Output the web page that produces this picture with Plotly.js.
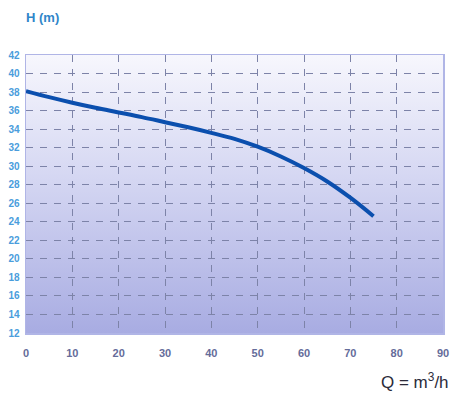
<!DOCTYPE html>
<html>
<head>
<meta charset="utf-8">
<script src="https://cdn.plot.ly/plotly-3.0.1.min.js"></script>
<style>html,body{margin:0;padding:0;background:#fff;}#chart{width:460px;height:396px;}</style>
</head>
<body>
<div id="chart"></div>
<script>
// Data
const flowQ = [0, 5, 10, 15, 20, 25, 30, 35, 40, 45, 50, 55, 60, 65, 70, 75];
const headH = [38.1, 37.45, 36.85, 36.3, 35.8, 35.3, 34.75, 34.2, 33.6, 32.95, 32.1, 31.05, 29.8, 28.35, 26.6, 24.6];
const xTicks = [0, 10, 20, 30, 40, 50, 60, 70, 80, 90];
const yTicks = [12, 14, 16, 18, 20, 22, 24, 26, 28, 30, 32, 34, 36, 38, 40, 42];

const gradSvg = '<svg xmlns="http://www.w3.org/2000/svg" width="10" height="100" preserveAspectRatio="none">' +
  '<defs><linearGradient id="g" x1="0" y1="0" x2="0" y2="1">' +
  '<stop offset="0" stop-color="#f7f7fd"/><stop offset="0.45" stop-color="#d4d6f2"/><stop offset="1" stop-color="#a8ace2"/>' +
  '</linearGradient></defs><rect width="10" height="100" fill="url(#g)"/></svg>';
const gradUri = 'data:image/svg+xml;base64,' + btoa(gradSvg);

const trace = {
  x: flowQ, y: headH, type: 'scatter', mode: 'lines',
  line: {color: '#0b4fae', width: 4, shape: 'spline', smoothing: 1},
  hoverinfo: 'skip'
};

const layout = {
  width: 460, height: 396,
  margin: {l: 26, r: 17, t: 55, b: 63},
  paper_bgcolor: '#ffffff',
  plot_bgcolor: 'rgba(0,0,0,0)',
  showlegend: false,
  font: {family: 'Liberation Sans, Arial, sans-serif'},
  images: [{
    source: gradUri, xref: 'paper', yref: 'paper', x: 0, y: 1, sizex: 1, sizey: 1,
    xanchor: 'left', yanchor: 'top', sizing: 'stretch', layer: 'below'
  }],
  xaxis: {
    range: [0, 90], tickvals: xTicks, ticktext: xTicks.map(String),
    showgrid: true, gridcolor: '#7d83a8', gridwidth: 1, griddash: '7px,7px',
    zeroline: false, showline: true, linecolor: '#b0b5e6', linewidth: 1.5, mirror: true,
    ticks: '', ticklabelstandoff: 9,
    tickfont: {size: 11, color: '#656c9a', weight: 'bold'}, fixedrange: true
  },
  yaxis: {
    range: [12, 42], tickvals: yTicks, ticktext: yTicks.map(String),
    showgrid: true, gridcolor: '#7d83a8', gridwidth: 1, griddash: '7px,7px',
    zeroline: false, showline: true, linecolor: '#b0b5e6', linewidth: 1.5, mirror: true,
    ticks: '', ticklabelstandoff: 3,
    tickfont: {size: 10, color: '#4a9ddc', weight: 'bold'}, fixedrange: true
  },
  annotations: [
    {text: 'H (m)', xref: 'paper', yref: 'paper', x: -0.005, y: 1.135, xanchor: 'left', yanchor: 'middle',
     showarrow: false, font: {size: 13, color: '#2f86c9', weight: 'bold'}},
    {text: 'Q = m<sup>3</sup>/h', xref: 'paper', yref: 'paper', x: 1.018, y: -0.172, xanchor: 'right', yanchor: 'middle',
     showarrow: false, font: {size: 17, color: '#2b2b3a'}}
  ]
};

Plotly.newPlot('chart', [trace], layout, {displayModeBar: false, staticPlot: true});
</script>
</body>
</html>
